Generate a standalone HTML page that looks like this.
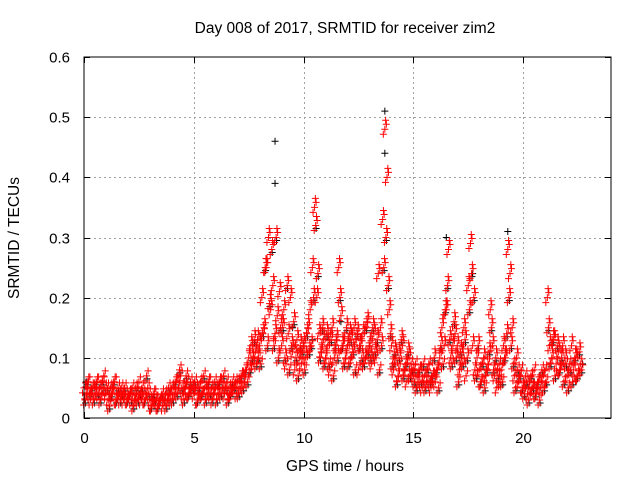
<!DOCTYPE html>
<html><head><meta charset="utf-8"><style>
html,body{margin:0;padding:0;background:#fff}
svg{display:block;font-family:"Liberation Sans",sans-serif}
</style></head><body>
<svg id="chart" width="640" height="480" viewBox="0 0 640 480" xmlns="http://www.w3.org/2000/svg">
<rect width="640" height="480" fill="#fff"/>
<text x="345" y="33" font-size="15.5" text-anchor="middle" fill="#000">Day 008 of 2017, SRMTID for receiver zim2</text>
<text x="345" y="471" font-size="15.5" text-anchor="middle" fill="#000">GPS time / hours</text>
<text transform="translate(19,238) rotate(-90)" font-size="15.5" text-anchor="middle" fill="#000">SRMTID / TECUs</text>
<g id="grid"></g>
<g id="marks"></g>
<rect x="84" y="57" width="527" height="361" fill="none" stroke="#000" stroke-width="1"/>
<g id="axes"></g>
</svg>
<script>
const xTicks = [0, 5, 10, 15, 20];
const yTicks = [0, 0.1, 0.2, 0.3, 0.4, 0.5, 0.6];
const yTickLabels = ["0", "0.1", "0.2", "0.3", "0.4", "0.5", "0.6"];
const seriesA = [
.05,.04,.06,.03,.05,.04,.06,.05,.04,.07,
.04,.03,.05,.04,.06,.03,.04,.05,.03,.04,
.03,.04,.05,.03,.04,.06,.03,.04,.03,.05,
.03,.02,.04,.03,.02,.03,.02,.04,.03,.04,
.05,.04,.06,.05,.07,.04,.05,.06,.04,.05,
.04,.05,.03,.06,.04,.05,.04,.06,.05,.04,
.05,.04,.06,.05,.04,.06,.05,.04,.05,.06,
.06,.05,.07,.06,.08,.10,.12,.09,.11,.13,
.12,.20,.15,.25,.30,.18,.22,.14,.17,.21,
.12,.18,.09,.14,.20,.11,.08,.13,.10,.09,
.12,.10,.15,.18,.25,.35,.20,.14,.11,.13,
.10,.12,.08,.15,.10,.13,.25,.17,.12,.10,
.12,.14,.10,.15,.13,.08,.12,.14,.10,.16,
.12,.09,.14,.10,.24,.15,.33,.48,.40,.18,
.12,.08,.10,.07,.09,.12,.08,.06,.10,.09,
.07,.09,.06,.08,.05,.07,.06,.09,.05,.07,
.06,.08,.10,.15,.12,.18,.28,.10,.12,.14,
.12,.08,.10,.15,.07,.22,.29,.12,.08,.10,
.08,.06,.10,.07,.09,.18,.12,.07,.05,.09,
.08,.12,.10,.28,.24,.15,.07,.10,.06,.08,
.05,.07,.04,.06,.05,.08,.04,.06,.05,.07,
.08,.20,.12,.10,.13,.09,.11,.08,.12,.10,
.07,.09,.12,.08,.10,.07,.09];
const seriesB = [
.03,.06,.04,.05,.03,.06,.04,.03,.06,.05,
.05,.02,.04,.06,.03,.05,.03,.04,.05,.03,
.04,.03,.02,.05,.03,.04,.05,.03,.07,.04,
.02,.04,.03,.02,.03,.04,.03,.02,.05,.03,
.03,.06,.04,.08,.05,.03,.07,.04,.06,.05,
.06,.03,.05,.04,.07,.03,.06,.04,.03,.06,
.03,.06,.04,.07,.05,.03,.04,.06,.05,.04,
.04,.07,.05,.08,.06,.08,.10,.13,.09,.10,
.09,.14,.25,.12,.19,.28,.12,.30,.10,.15,
.15,.10,.22,.08,.12,.16,.10,.07,.12,.11,
.08,.14,.11,.12,.20,.32,.24,.10,.15,.09,
.14,.09,.13,.07,.12,.10,.20,.12,.09,.15,
.09,.13,.11,.08,.14,.12,.10,.09,.15,.11,
.10,.15,.11,.13,.08,.12,.25,.30,.22,.14,
.09,.11,.06,.10,.13,.07,.09,.11,.07,.08,
.06,.05,.08,.06,.09,.05,.08,.06,.07,.10,
.08,.05,.12,.09,.18,.22,.13,.09,.16,.10,
.06,.11,.09,.13,.10,.18,.24,.20,.07,.12,
.06,.09,.05,.08,.11,.15,.08,.10,.07,.06,
.06,.10,.14,.20,.12,.09,.05,.08,.07,.05,
.04,.06,.03,.07,.05,.04,.06,.03,.08,.05,
.06,.15,.09,.13,.07,.12,.08,.10,.06,.09,
.05,.08,.06,.10,.07,.11,.08];
const blackTimes = [8.7, 8.7, 13.7, 13.7, 19.3, 9.5, 11.7, 16.5, 3.2, 6.1, 14.6, 20.4, 0.1, 10.4, 17.7, 22.7];
const blackValues = [.46, .39, .51, .44, .31, .15, .16, .30, .03, .05, .08, .05, .06, .13, .24, .09];

const NS = "http://www.w3.org/2000/svg";
const X0 = 84, X1 = 611, Y0 = 418, Y1 = 57;
const xScale = t => X0 + t / 24 * (X1 - X0);
const yScale = v => Y0 - v / 0.6 * (Y0 - Y1);
function line(g, x1, y1, x2, y2, stroke, dash) {
  const l = document.createElementNS(NS, "line");
  l.setAttribute("x1", x1); l.setAttribute("y1", y1);
  l.setAttribute("x2", x2); l.setAttribute("y2", y2);
  l.setAttribute("stroke", stroke); l.setAttribute("stroke-width", 1);
  if (dash) l.setAttribute("stroke-dasharray", dash);
  g.appendChild(l);
  return l;
}
const grid = document.getElementById("grid");
const axes = document.getElementById("axes");
const marks = document.getElementById("marks");
xTicks.forEach(t => {
  const x = Math.round(xScale(t)) + 0.5;
  if (t > 0) { const gl = line(grid, x, Y1, x, Y0, "#a0a0a0", "2,3");
    
     }
  line(axes, x, Y0, x, Y0 - 6, "#000"); line(axes, x, Y1, x, Y1 + 6, "#000");
  const tx = document.createElementNS(NS, "text");
  
  
  tx.setAttribute("x", x); tx.setAttribute("y", 443);
  tx.setAttribute("font-size", "15"); tx.setAttribute("text-anchor", "middle");
  tx.textContent = String(t); axes.appendChild(tx);
});
yTicks.forEach((v, i) => {
  const y = Math.round(yScale(v)) + 0.5;
  if (v > 0 && v < 0.6) { const gl = line(grid, X0, y, X1, y, "#a0a0a0", "2,3");
    
     }
  line(axes, X0, y, X0 + 6, y, "#000"); line(axes, X1, y, X1 - 6, y, "#000");
  const tx = document.createElementNS(NS, "text");
  
  
  tx.setAttribute("x", 70); tx.setAttribute("y", y + 5);
  tx.setAttribute("font-size", "15"); tx.setAttribute("text-anchor", "end");
  tx.textContent = yTickLabels[i]; axes.appendChild(tx);
});
function plus(x, y, color, name) {
  const p = document.createElementNS(NS, "path");
  
  
  p.setAttribute("d", `M${x-3.5},${y}H${x+3.5}M${x},${y-3.5}V${y+3.5}`);
  p.setAttribute("stroke", color); p.setAttribute("stroke-width", 1); p.setAttribute("fill", "none");
  marks.appendChild(p);
}
// cluster offsets (pixels) used to render each sample as a small scatter cluster
const clusterDx = [0, 1.5, -1.5, 0.8];
const clusterDy = [0, -5, 5, -9];
blackValues.forEach((v, i) => plus(xScale(blackTimes[i]), yScale(v), "#000", "black-point"));
seriesB.forEach((v, i) => plus(xScale(i / 10 + 0.07), yScale(v) + 3, "#000", "black-point"));
[seriesA, seriesB].forEach((s, si) => {
  s.forEach((v, i) => {
    const x = xScale(i / 10 + si * 0.05), y = yScale(v);
    clusterDx.forEach((dx, k) => {
      if (k === 3 && v < 0.1) return;
      plus(x + dx, y + clusterDy[k], "#f00", "red-point");
    });
  });
});
</script>
</body></html>
